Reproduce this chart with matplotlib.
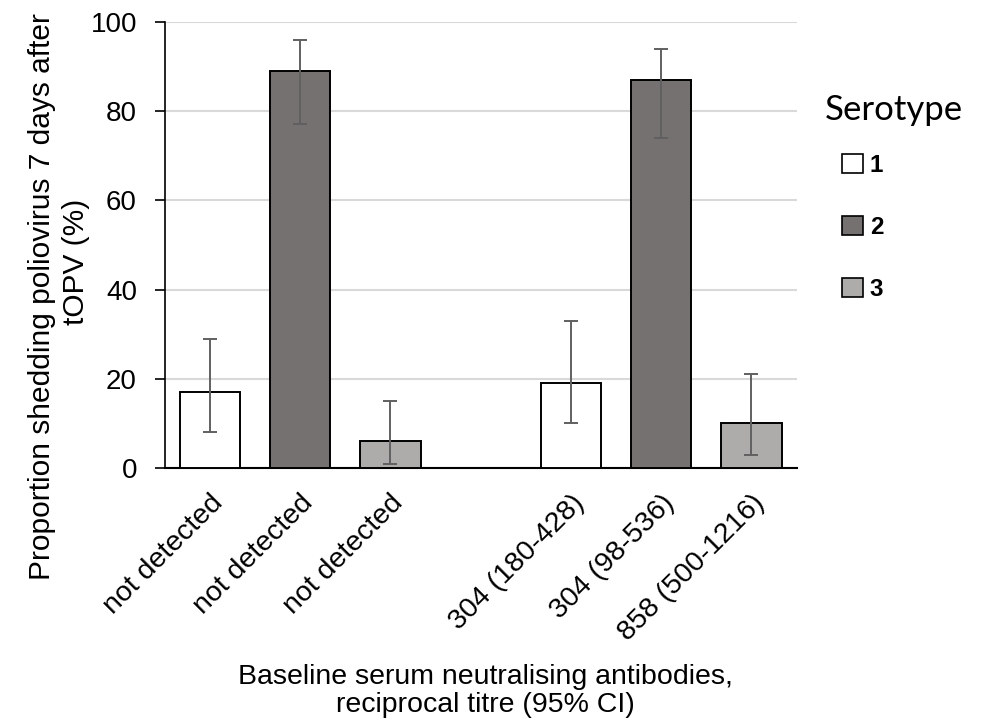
import matplotlib.pyplot as plt
from matplotlib.patches import Patch

plt.rcParams['font.family'] = ['Liberation Sans', 'DejaVu Sans']

# shedding at day 7 by serotype, for undetected and detected baseline antibodies
tick_labels = ['not detected', 'not detected', 'not detected', '',
               '304 (180-428)', '304 (98-536)', '858 (500-1216)']
serotypes = ['1', '2', '3']
shedding = [17, 89, 6, 19, 87, 10]
ci_low = [8, 77, 1, 10, 74, 3]
ci_high = [29, 96, 15, 33, 94, 21]
bar_serotype = [0, 1, 2, 0, 1, 2]

colours = ['#FFFFFF', '#767171', '#AEABAB']

W, H = 992, 728
fig = plt.figure(figsize=(W / 100, H / 100), dpi=100)
ax = fig.add_axes([0.166, 0.357, 0.637, 0.613])

# leave an empty slot between the two groups
xpos = [i if i < 3 else i + 1 for i in range(len(shedding))]
yerr = [[v - lo for v, lo in zip(shedding, ci_low)],
        [hi - v for v, hi in zip(shedding, ci_high)]]

ax.bar(xpos, shedding, width=0.67,
       color=[colours[s] for s in bar_serotype],
       edgecolor='black', linewidth=1.4, zorder=3)
ax.errorbar(xpos, shedding, yerr=yerr, fmt='none', ecolor='#606060',
            elinewidth=1.4, capsize=5, capthick=1.4, zorder=4)

ax.set_xlim(-0.5, 6.5)
ax.set_ylim(0, 100)
ax.set_yticks(range(0, 101, 20))
ax.set_xticks(range(len(tick_labels)))
ax.set_xticklabels(tick_labels, rotation=45, ha='right',
                   rotation_mode='anchor', fontsize=20.5)
ax.tick_params(axis='x', length=0, pad=16)
ax.tick_params(axis='y', labelsize=20, length=7, width=1.2, pad=13)
ax.yaxis.grid(True, color='#D9D9D9', linewidth=1.5, zorder=0)
ax.set_axisbelow(True)

for side in ['top', 'right']:
    ax.spines[side].set_visible(False)
ax.spines['left'].set_linewidth(1.2)
ax.spines['bottom'].set_linewidth(1.5)

# axis titles, placed in pixels
fig.text(42 / W, 1 - 297 / H, 'Proportion shedding poliovirus 7 days after',
         rotation=90, ha='center', va='center', fontsize=21.5)
fig.text(76 / W, 1 - 262 / H, 'tOPV (%)',
         rotation=90, ha='center', va='center', fontsize=21.5)
fig.text(485 / W, 1 - 691 / H,
         'Baseline serum neutralising antibodies,\nreciprocal titre (95% CI)',
         ha='center', va='center', fontsize=20.5, linespacing=1.1)

fig.text(825 / W, 1 - 110 / H, 'Serotype', family='Lato', fontsize=25,
         ha='left', va='center')
handles = [Patch(facecolor=c, edgecolor='black', linewidth=1.2) for c in colours]
fig.legend(handles, serotypes, loc='upper left',
           bbox_to_anchor=(820 / W, 1 - 132 / H), frameon=False,
           handlelength=0.85, handleheight=0.8,
           handletextpad=0.3, labelspacing=1.6,
           prop={'size': 17.5, 'weight': 'bold'})

fig.savefig('out.png', dpi=100)
